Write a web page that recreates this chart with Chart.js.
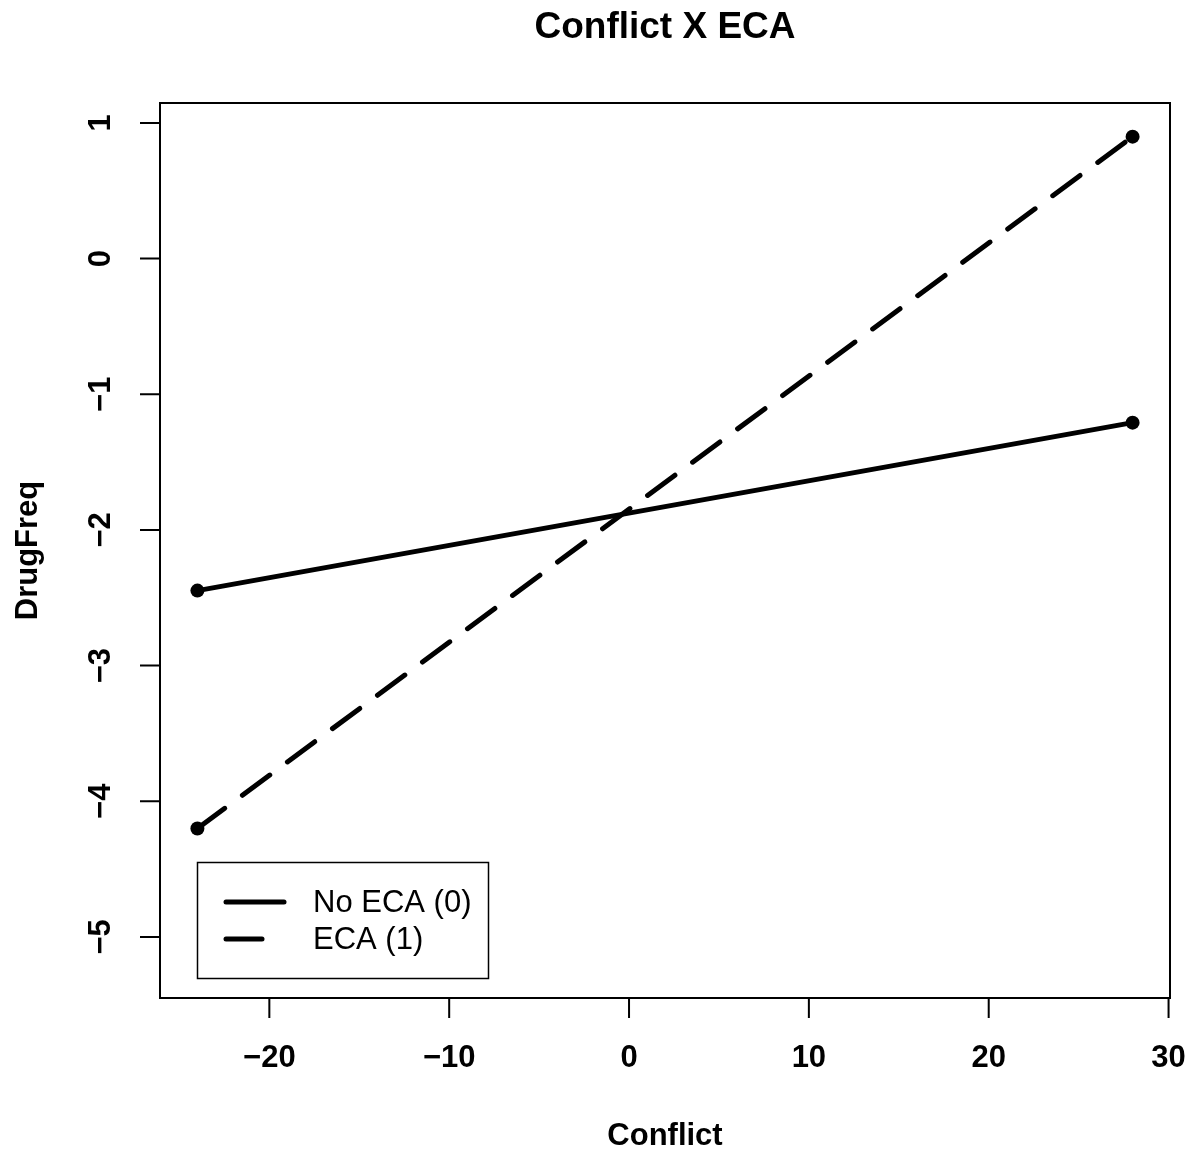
<!DOCTYPE html>
<html>
<head>
<meta charset="utf-8">
<script src="https://cdn.jsdelivr.net/npm/chart.js@4.4.1/dist/chart.umd.min.js"></script>
<style>
  html, body { margin: 0; padding: 0; background: #fff; }
  #wrap { width: 1194px; height: 1152px; position: relative; }
</style>
</head>
<body>
<div id="wrap"><canvas id="plot"></canvas></div>
<script>
// data
const conflictVals = [-24, 28];
const noEcaVals = [-2.447, -1.209];
const ecaVals = [-4.201, 0.899];
const xTicks = [-20, -10, 0, 10, 20, 30];
const yTicks = [-5, -4, -3, -2, -1, 0, 1];
const seriesNames = ['No ECA (0)', 'ECA (1)'];

const FONT = '"Liberation Sans", Arial, Helvetica, sans-serif';
const minus = v => (v < 0 ? '\u2212' + Math.abs(v) : String(v));

// frame, axes, titles and legend drawn in R style
const baseGraphics = {
    id: 'baseGraphics',
    afterDraw(chart) {
        const ctx = chart.ctx;
        const a = chart.chartArea;
        const xs = chart.scales.x;
        const ys = chart.scales.y;
        ctx.save();
        ctx.strokeStyle = '#000';
        ctx.fillStyle = '#000';
        ctx.lineWidth = 2;

        // box
        ctx.strokeRect(a.left, a.top, a.right - a.left, a.bottom - a.top);

        // x axis
        const x0 = xs.getPixelForValue(xTicks[0]);
        const x1 = xs.getPixelForValue(xTicks[xTicks.length - 1]);
        ctx.beginPath();
        ctx.moveTo(x0, a.bottom); ctx.lineTo(x1, a.bottom);
        xTicks.forEach(t => {
            const px = xs.getPixelForValue(t);
            ctx.moveTo(px, a.bottom); ctx.lineTo(px, a.bottom + 20);
        });
        // y axis
        const y0 = ys.getPixelForValue(yTicks[0]);
        const y1 = ys.getPixelForValue(yTicks[yTicks.length - 1]);
        ctx.moveTo(a.left, y0); ctx.lineTo(a.left, y1);
        yTicks.forEach(t => {
            const py = ys.getPixelForValue(t);
            ctx.moveTo(a.left, py); ctx.lineTo(a.left - 20, py);
        });
        ctx.stroke();

        // tick labels
        ctx.font = 'bold 31px ' + FONT;
        ctx.textAlign = 'center';
        ctx.textBaseline = 'middle';
        xTicks.forEach(t => {
            ctx.fillText(minus(t), xs.getPixelForValue(t), 1058);
        });
        yTicks.forEach(t => {
            ctx.save();
            ctx.translate(101, ys.getPixelForValue(t));
            ctx.rotate(-Math.PI / 2);
            ctx.fillText(minus(t), 0, 0);
            ctx.restore();
        });

        // titles
        const cx = (a.left + a.right) / 2;
        const cy = (a.top + a.bottom) / 2;
        ctx.font = 'bold 37px ' + FONT;
        ctx.fillText('Conflict X ECA', cx, 28);
        ctx.font = 'bold 31px ' + FONT;
        ctx.fillText('Conflict', cx, 1136);
        ctx.save();
        ctx.translate(28, cy);
        ctx.rotate(-Math.PI / 2);
        ctx.fillText('DrugFreq', 0, 0);
        ctx.restore();

        // legend
        ctx.lineWidth = 1.5;
        ctx.strokeRect(197.5, 862.5, 291, 116);
        ctx.lineWidth = 5;
        ctx.lineCap = 'round';
        ctx.beginPath();
        ctx.moveTo(226, 902); ctx.lineTo(284, 902);
        ctx.stroke();
        ctx.beginPath();
        ctx.moveTo(226, 939); ctx.lineTo(262, 939);
        ctx.stroke();
        ctx.font = '31px ' + FONT;
        ctx.textAlign = 'left';
        ctx.fillText(seriesNames[0], 313, 903);
        ctx.fillText(seriesNames[1], 313, 940);
        ctx.restore();
    }
};

const ctx = document.getElementById('plot').getContext('2d');
new Chart(ctx, {
    type: 'line',
    data: {
        datasets: [
            {
                label: seriesNames[0],
                data: conflictVals.map((x, i) => ({ x: x, y: noEcaVals[i] })),
                borderColor: '#000',
                backgroundColor: '#000',
                borderWidth: 5,
                pointRadius: 7,
                pointBorderWidth: 0,
                borderCapStyle: 'round'
            },
            {
                label: seriesNames[1],
                data: conflictVals.map((x, i) => ({ x: x, y: ecaVals[i] })),
                borderColor: '#000',
                backgroundColor: '#000',
                borderWidth: 5,
                borderDash: [34, 22],
                borderCapStyle: 'round',
                pointRadius: 7,
                pointBorderWidth: 0
            }
        ]
    },
    options: {
        responsive: true,
        maintainAspectRatio: false,
        animation: false,
        layout: { padding: { left: 160, right: 24, top: 103, bottom: 154 } },
        scales: {
            x: { type: 'linear', min: -26.08, max: 30.08, display: false },
            y: { type: 'linear', min: -5.45, max: 1.147, display: false }
        },
        plugins: {
            legend: { display: false },
            title: { display: false },
            tooltip: { enabled: false }
        }
    },
    plugins: [baseGraphics]
});
</script>
</body>
</html>
